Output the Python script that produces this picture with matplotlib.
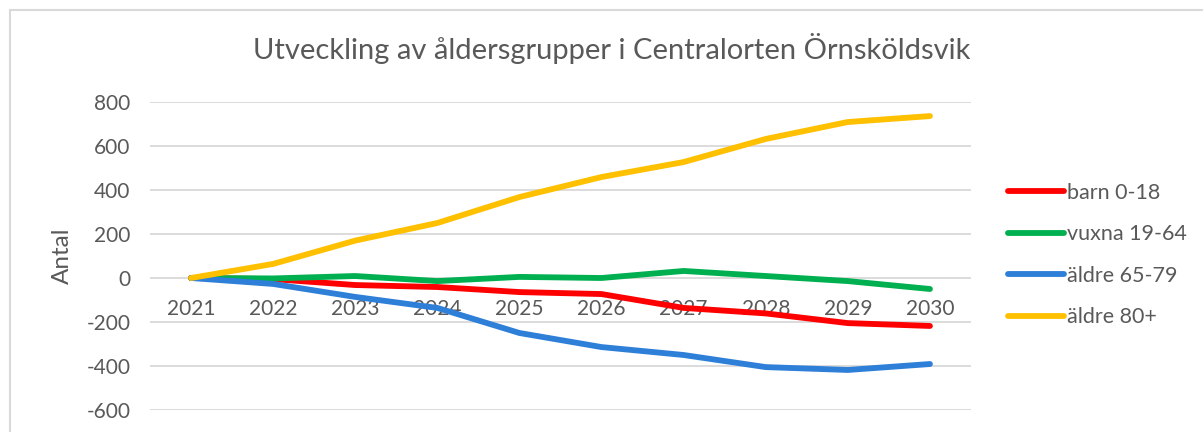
import matplotlib
matplotlib.use("Agg")
import matplotlib.pyplot as plt
from matplotlib.patches import Rectangle

years = ["2021", "2022", "2023", "2024", "2025", "2026", "2027", "2028", "2029", "2030"]
barn = [0, -5, -32, -41, -64, -73, -136, -161, -205, -218]
vuxna = [0, -2, 9, -14, 5, 0, 32, 9, -14, -50]
aldre_65 = [0, -27, -86, -136, -250, -314, -350, -405, -418, -391]
aldre_80 = [0, 64, 170, 250, 368, 459, 527, 632, 709, 736]

series = [
    ("barn 0-18", barn, "#FF0000"),
    ("vuxna 19-64", vuxna, "#00B050"),
    ("äldre 65-79", aldre_65, "#2E7FD8"),
    ("äldre 80+", aldre_80, "#FFC000"),
]

txt = "#595959"
plt.rcParams["font.family"] = ["Lato", "DejaVu Sans"]
plt.rcParams["axes.unicode_minus"] = False

fig = plt.figure(figsize=(12.03, 4.32), dpi=100)
fig.patches.append(Rectangle((10 / 1203, -0.1), 1.2, (432 - 10) / 432 + 0.1,
                             transform=fig.transFigure, fill=False,
                             edgecolor="#D9D9D9", lw=1.5))

ax = fig.add_axes([150 / 1203, 22 / 432, 821 / 1203, 308 / 432])
x = list(range(len(years)))
for name, vals, col in series:
    ax.plot(x, vals, color=col, lw=4.2, label=name, solid_capstyle="round")

ax.set_xlim(-0.5, len(years) - 0.5)
ax.set_ylim(-600, 800)
ax.set_yticks(range(-600, 801, 200))
ax.set_xticks(x)
ax.set_xticklabels(years)
ax.grid(axis="y", color="#D9D9D9", lw=1.3)
ax.set_axisbelow(True)
for s in ax.spines.values():
    s.set_visible(False)
ax.spines["bottom"].set_position(("data", 0))
ax.tick_params(axis="x", length=0, pad=15, labelsize=15, labelcolor=txt)
ax.tick_params(axis="y", length=0, pad=14, labelsize=15, labelcolor=txt)
ax.set_ylabel("Antal", fontsize=17.5, color=txt, labelpad=10)

fig.text(612 / 1203, (432 - 48) / 432, "Utveckling av åldersgrupper i Centralorten Örnsköldsvik",
         ha="center", va="center", fontsize=21, color=txt)

leg = ax.legend(loc="center left", bbox_to_anchor=(1008 / 1203, (432 - 255) / 432),
                bbox_transform=fig.transFigure, frameon=False, fontsize=15.5,
                handlelength=2.6, handletextpad=0.15, labelspacing=1.0,
                borderpad=0, borderaxespad=0)
for t in leg.get_texts():
    t.set_color(txt)

fig.savefig("out.png", dpi=100)
